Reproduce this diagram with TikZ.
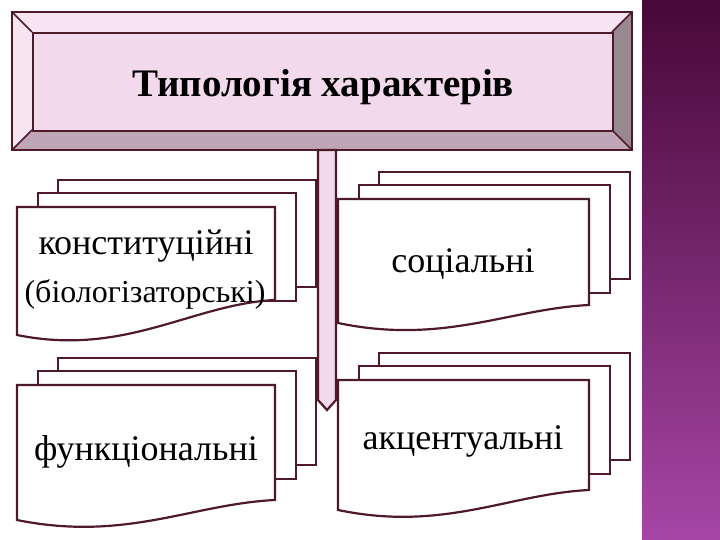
\documentclass[tikz,border=0pt]{standalone}
\usepackage{fontspec}
\setmainfont{Liberation Serif}
\begin{document}
\begin{tikzpicture}[x=1pt,y=-1pt,
  edge/.style={draw=ln,line width=2.2pt,line join=miter},
  page/.style={edge,fill=white},
  lbl/.style={font=\fontsize{36}{38}\selectfont,align=center,text=black,inner sep=0pt}]
\definecolor{ln}{HTML}{4E1A2A}
\definecolor{pk}{HTML}{F2D9EC}
\definecolor{pk2}{HTML}{F6E4F1}
\definecolor{gr}{HTML}{9A8890}
\definecolor{gb}{HTML}{BFA6B6}
\useasboundingbox (0,0) rectangle (720,540);
\fill[white] (0,0) rectangle (720,540);
\shade[top color={rgb,255:red,72;green,8;blue,56},bottom color={rgb,255:red,165;green,70;blue,165}] (642,0) rectangle (720,540);
% title bevel
\fill[pk2] (12,12) -- (632,12) -- (612,32) -- (32,32) -- cycle;
\fill[pk2] (12,12) -- (32,32) -- (32,130) -- (12,150) -- cycle;
\fill[gr] (632,12) -- (632,150) -- (612,130) -- (612,32) -- cycle;
\fill[gb] (12,150) -- (32,130) -- (612,130) -- (632,150) -- cycle;
\draw[edge] (12,12) rectangle (632,150);
\draw[edge,line width=1.5pt] (12,12)--(32,32) (632,12)--(612,32) (12,150)--(32,130) (632,150)--(612,130);
\node[edge,fill=pk,minimum width=580pt,minimum height=98pt,anchor=north west] (title) at (32,32) {};
\node[font=\fontsize{39}{42}\selectfont\bfseries] (tt) at ([yshift=-5pt]title.center) {Типологія характерів};
% arrow
\coordinate (tip) at (327,410);
\draw[edge,fill=pk] (318,150) -- (336,150) -- (336,400) -- (tip) -- (318,400) -- cycle;
% documents
\foreach \x/\y/\ya/\yb/\w in {17/207/335/300/258, 338/199/323/305/251, 338/380/510/490/251, 17/385/520/500/258}{
  \draw[page] (\x+41,\y-27) rectangle (\x+41+\w,\y+80);
  \draw[page] (\x+21,\y-14) rectangle (\x+21+\w,\y+94);
  \draw[page] (\x,\y) -- (\x+\w,\y) -- (\x+\w,\yb)
     .. controls (\x+0.68*\w,\yb+4) and (\x+0.42*\w,\ya+22) .. (\x,\ya) -- cycle;
}
\node[lbl] (k) at (146,246) {конституційні};
\node[lbl,font=\fontsize{32}{34}\selectfont] (k2) at (145,294) {(біологізаторські)};
\node[lbl] (s) at (463,264) {соціальні};
\node[lbl] (a) at (463,441) {акцентуальні};
\node[lbl] (f) at (146,452) {функціональні};
\end{tikzpicture}
\end{document}
